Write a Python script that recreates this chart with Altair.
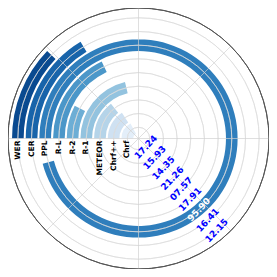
import math
import altair as alt
import pandas as pd

# ---- data ----
categories = ["Chrf", "Chrf++", "METEOR", "R-1", "R-2", "R-L", "PPL", "CER", "WER"]
values = [17.24, 15.93, 14.35, 21.26, 7.57, 17.91, 95.90, 16.41, 12.15]
value_labels = ["17.24", "15.93", "14.35", "21.26", "07.57", "17.91", "95.90", "16.41", "12.15"]
positions = [1, 2, 3, 4, 5, 6, 7, 8, 9]
colors = ["#e3eef9", "#cfe1f2", "#b5d4e9", "#93c3df", "#6daed5",
          "#4b97c9", "#2f7ebc", "#1864aa", "#0a4a90"]
label_colors = ["#0000ff"] * 6 + ["#ffffff"] + ["#0000ff"] * 2
grid_angles = [0, 45, 90, 135]

BAR_H = 0.85
R_MIN, R_MAX = 0.18, 9.72
SIZE = 261

bars = pd.DataFrame({
    "cat": categories,
    "val": values,
    "lab": value_labels,
    "pos": positions,
    "color": colors,
    "lcolor": label_colors,
})
bars["t0"] = 0.0
bars["r0"] = bars["pos"] - BAR_H / 2
bars["r1"] = bars["pos"] + BAR_H / 2
bars["ltheta"] = 63.8      # diagonal for value labels
bars["ctheta"] = 0.0       # west for category labels

theta_scale = alt.Scale(type="linear", domain=[0, 100],
                        range=[1.5 * math.pi, 3.5 * math.pi])
radius_scale = alt.Scale(type="linear", domain=[R_MIN, R_MAX], range=[0, SIZE / 2])

grid = pd.DataFrame({"r": positions + [R_MAX], "outer": [False] * 9 + [True]})
grid["t0"] = 0.0
grid["t1"] = 100.0

spokes = pd.DataFrame({"a": grid_angles})
spokes["x"] = [math.cos(math.radians(a)) for a in grid_angles]
spokes["y"] = [math.sin(math.radians(a)) for a in grid_angles]
spokes["x2"] = -spokes["x"]
spokes["y2"] = -spokes["y"]

bar_layer = alt.Chart(bars).mark_arc().encode(
    theta=alt.Theta("t0:Q", scale=theta_scale),
    theta2="val:Q",
    radius=alt.Radius("r1:Q", scale=radius_scale),
    radius2="r0:Q",
    color=alt.Color("color:N", scale=None),
)

grid_layer = alt.Chart(grid[~grid["outer"]]).mark_arc(
    fillOpacity=0, stroke="#dcdcdc", strokeWidth=0.8, strokeOpacity=0.85
).encode(
    theta=alt.Theta("t0:Q", scale=theta_scale),
    theta2="t1:Q",
    radius=alt.Radius("r:Q", scale=radius_scale),
    radius2="r:Q",
)

outer_layer = alt.Chart(grid[grid["outer"]]).mark_arc(
    fillOpacity=0, stroke="#555555", strokeWidth=1
).encode(
    theta=alt.Theta("t0:Q", scale=theta_scale),
    theta2="t1:Q",
    radius=alt.Radius("r:Q", scale=radius_scale),
    radius2="r:Q",
)

spoke_layer = alt.Chart(spokes).mark_rule(
    color="#d0d0d0", strokeWidth=0.8, opacity=0.85
).encode(
    x=alt.X("x:Q", scale=alt.Scale(domain=[-1, 1]), axis=None),
    y=alt.Y("y:Q", scale=alt.Scale(domain=[-1, 1]), axis=None),
    x2="x2:Q",
    y2="y2:Q",
)

value_text = alt.Chart(bars).mark_text(
    font="DejaVu Sans", fontWeight="bold", fontSize=9, angle=313,
    align="center", baseline="middle"
).encode(
    theta=alt.Theta("ltheta:Q", scale=theta_scale, stack=None),
    radius=alt.Radius("pos:Q", scale=radius_scale),
    text="lab:N",
    color=alt.Color("lcolor:N", scale=None),
)

cat_text = alt.Chart(bars).mark_text(
    font="DejaVu Sans", fontWeight="bold", fontSize=7.5, angle=270,
    align="right", baseline="middle", dx=-2, color="black"
).encode(
    theta=alt.Theta("ctheta:Q", scale=theta_scale, stack=None),
    radius=alt.Radius("pos:Q", scale=radius_scale),
    text="cat:N",
)

chart = alt.layer(
    bar_layer, grid_layer, spoke_layer, outer_layer, value_text, cat_text
).properties(
    width=SIZE, height=SIZE, padding=0, autosize="none"
).configure_view(stroke=None)

chart.save("out.html", embed_options={"renderer": "svg", "actions": False})
